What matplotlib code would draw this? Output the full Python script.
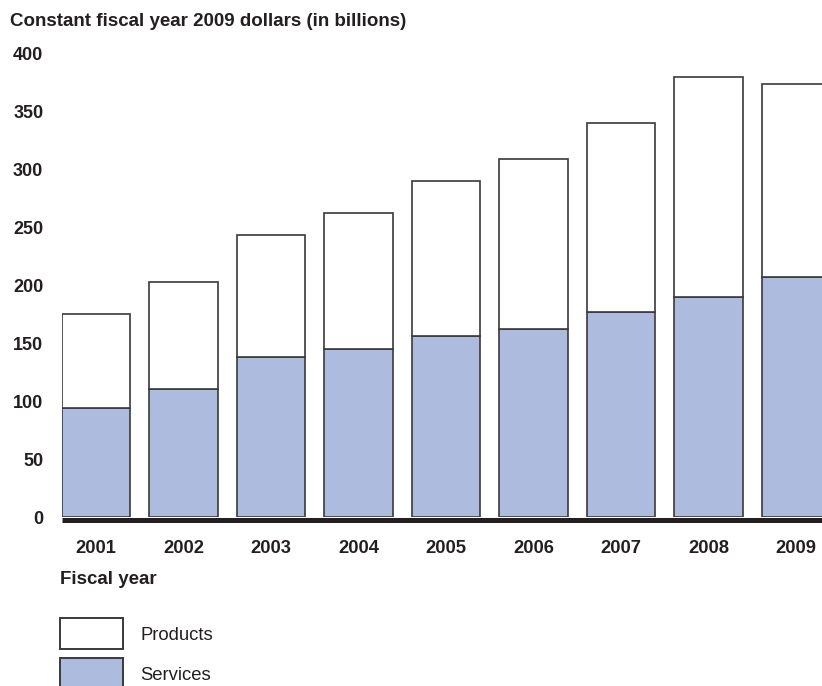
import numpy as np
import matplotlib
matplotlib.use('Agg')
from matplotlib import pyplot as plt
from matplotlib.patches import Rectangle

plt.rcParams['font.family'] = ['Liberation Sans', 'DejaVu Sans']

years = ['2001', '2002', '2003', '2004', '2005', '2006', '2007', '2008', '2009']
services = [94, 110, 138, 145, 156, 162, 177, 190, 207]
totals = [175, 203, 243, 262, 290, 309, 340, 379, 373]
products = [t - s for t, s in zip(totals, services)]

SERVICE_COLOR = '#adbbdf'
EDGE = '#3a3a3a'

W, H = 822, 686
fig = plt.figure(figsize=(W / 100, H / 100), dpi=100)


def fx(px):
    return px / W


def fy(py):
    return 1 - py / H


ax = fig.add_axes([fx(62), fy(517), fx(822) - fx(62), fy(53) - fy(517)])

x = np.arange(len(years))
width = 0.78
ax.bar(x, services, width, color=SERVICE_COLOR, edgecolor=EDGE, linewidth=1.2, zorder=2)
ax.bar(x, products, width, bottom=services, color='white', edgecolor=EDGE,
       linewidth=1.2, zorder=2)

ax.set_xlim(-0.39, 8.297)
ax.set_ylim(0, 400)
ax.set_yticks(range(0, 401, 50))
ax.set_xticks(x)
ax.set_xticklabels(years)

for side in ['top', 'right', 'left']:
    ax.spines[side].set_visible(False)
ax.spines['bottom'].set_linewidth(3.6)
ax.spines['bottom'].set_color('#231f20')
ax.spines['bottom'].set_capstyle('butt')
ax.spines['bottom'].set_position(('outward', 1.8))
ax.spines['bottom'].set_zorder(3)

ax.tick_params(axis='y', length=0, pad=13.5, labelsize=13)
ax.tick_params(axis='x', length=0, pad=15, labelsize=13.2)
for lbl in ax.get_xticklabels() + ax.get_yticklabels():
    lbl.set_fontweight('bold')
    lbl.set_color('#231f20')

fig.text(fx(10), fy(21), 'Constant fiscal year 2009 dollars (in billions)',
         fontsize=13.5, fontweight='bold', color='#231f20', va='center', ha='left')
fig.text(fx(60), fy(580), 'Fiscal year', fontsize=13.5, fontweight='bold',
         color='#231f20', va='center', ha='left')

# legend
for top, fc, label in [(618, 'white', 'Products'), (658, SERVICE_COLOR, 'Services')]:
    fig.patches.append(Rectangle((fx(60), fy(top + 31)), fx(123) - fx(60), fy(top) - fy(top + 31),
                                 transform=fig.transFigure, facecolor=fc,
                                 edgecolor=EDGE, linewidth=1.4))
    fig.text(fx(140), fy(top + 18), label, fontsize=13.3, color='#231f20',
             va='center', ha='left')

fig.savefig('out.png', dpi=100)
